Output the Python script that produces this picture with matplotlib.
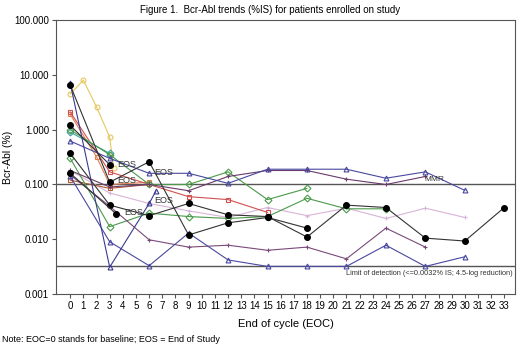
import matplotlib.pyplot as plt

plt.rcParams['font.family'] = ['Liberation Sans', 'DejaVu Sans']

cycles = list(range(34))
ytick_vals = [100, 10, 1, 0.1, 0.01, 0.001]
ytick_labels = ['100.000', '10.000', '1.000', '0.100', '0.010', '0.001']
mmr = 0.1
lod = 0.0032

yellow_x = [0, 1, 2, 3, 3.3]
yellow_y = [4.5, 8.0, 2.6, 0.73, 0.2]
navy_drop_x = [0, 3, 6, 6.5]
navy_drop_y = [7.0, 0.0031, 0.045, 0.075]
black_a_x = [0, 3, 6, 9, 12, 15, 18]
black_a_y = [6.5, 0.11, 0.26, 0.012, 0.02, 0.025, 0.016]
black_b_x = [0, 3]
black_b_y = [1.2, 0.23]
black_c_x = [0, 3, 6, 9, 12, 15, 18, 21, 24, 27, 30, 33]
black_c_y = [0.37, 0.042, 0.027, 0.045, 0.028, 0.026, 0.011, 0.042, 0.038, 0.0105, 0.0093, 0.038]
black_d_x = [0, 3.5]
black_d_y = [0.16, 0.029]
navy_hi_x = [0, 3, 6, 9, 12, 15, 18, 21, 24, 27, 30]
navy_hi_y = [0.62, 0.3, 0.16, 0.16, 0.105, 0.19, 0.19, 0.19, 0.13, 0.17, 0.078]
navy_lo_x = [0, 3, 6, 9, 12, 15, 18, 21, 24, 27, 30]
navy_lo_y = [0.14, 0.009, 0.0033, 0.013, 0.0042, 0.0032, 0.0032, 0.0032, 0.0078, 0.0032, 0.0048]
purple_lo_x = [0, 3, 6, 9, 12, 15, 18, 21, 24, 27]
purple_lo_y = [0.15, 0.04, 0.0098, 0.0072, 0.0078, 0.0063, 0.0072, 0.0044, 0.016, 0.0072]
purple_hi_x = [0, 3, 6, 9, 12, 15, 18, 21, 24, 27]
purple_hi_y = [0.18, 0.09, 0.1, 0.077, 0.14, 0.18, 0.18, 0.125, 0.1, 0.14]
green_a_x = [0, 3, 6, 9, 12, 15, 18]
green_a_y = [1.0, 0.35, 0.1, 0.1, 0.17, 0.053, 0.085]
green_b_x = [0, 3, 6, 9, 12, 15, 18, 21, 24]
green_b_y = [0.3, 0.017, 0.03, 0.026, 0.024, 0.026, 0.056, 0.036, 0.036]
red_x = [0, 3, 6, 9, 12, 15]
red_y = [2.1, 0.17, 0.1, 0.06, 0.053, 0.031]
orange_x = [0, 2, 3, 6]
orange_y = [1.9, 0.32, 0.1, 0.11]
pink_x = [0, 3, 6, 9, 12, 15, 18, 21, 24, 27, 30]
pink_y = [0.18, 0.07, 0.045, 0.033, 0.025, 0.038, 0.027, 0.037, 0.024, 0.037, 0.025]
teal_x = [0, 3]
teal_y = [0.9, 0.37]
brown_x = [0, 3, 6]
brown_y = [0.12, 0.085, 0.1]

eos_x = [3.6, 3.6, 4.1, 6.4, 6.4]
eos_y = [0.23, 0.12, 0.031, 0.165, 0.052]

series = [
    (yellow_x, yellow_y, '#e6c860', 'o', 'none'),
    (pink_x, pink_y, '#d8b4d8', '+', None),
    (brown_x, brown_y, '#b05a30', 's', 'none'),
    (orange_x, orange_y, '#e08050', 's', 'none'),
    (red_x, red_y, '#d05050', 's', 'none'),
    (teal_x, teal_y, '#40a0a0', 'D', 'none'),
    (green_a_x, green_a_y, '#4a9a4a', 'D', 'none'),
    (green_b_x, green_b_y, '#4a9a4a', 'D', 'none'),
    (purple_lo_x, purple_lo_y, '#7a4a7a', '+', None),
    (purple_hi_x, purple_hi_y, '#6a3a6a', '+', None),
    (navy_hi_x, navy_hi_y, '#4848a0', '^', 'none'),
    (navy_lo_x, navy_lo_y, '#4848a0', '^', 'none'),
    (navy_drop_x, navy_drop_y, '#3a3a90', '^', 'none'),
    (black_a_x, black_a_y, '#333333', 'o', 'black'),
    (black_b_x, black_b_y, '#333333', 'o', 'black'),
    (black_c_x, black_c_y, '#333333', 'o', 'black'),
    (black_d_x, black_d_y, '#333333', 'o', 'black'),
]

fig = plt.figure(figsize=(5.2, 3.46), dpi=100)
ax = fig.add_axes([0.108, 0.150, 0.882, 0.792])

ax.axhline(mmr, color='#555555', lw=1)
ax.axhline(lod, color='#555555', lw=1)

for xs, ys, col, mk, fc in series:
    if fc is None:
        ax.plot(xs, ys, color=col, lw=0.8, marker=mk, ms=3.5, mew=0.8)
    else:
        ms = 4.2 if fc == 'black' else 3.5
        ax.plot(xs, ys, color=col, lw=0.8, marker=mk, ms=ms, mfc=fc,
                mec='black' if fc == 'black' else col, mew=0.8)

for ex, ey in zip(eos_x, eos_y):
    ax.text(ex, ey, 'EOS', fontsize=6.5, va='center', ha='left', color='#333333')

ax.text(26.9, 0.108, 'MMR', fontsize=6, va='bottom', ha='left', color='#333333')
ax.text(33.6, 0.0027, 'Limit of detection (<=0.0032% IS; 4.5-log reduction)',
        fontsize=5.3, va='top', ha='right', color='#333333')

ax.set_yscale('log')
ax.set_ylim(0.001, 100)
ax.set_xlim(-1.07, 33.8)
ax.set_yticks(ytick_vals)
ax.set_yticklabels(ytick_labels)
ax.minorticks_off()
ax.set_xticks(cycles)
ax.tick_params(labelsize=7, length=3, width=0.8, color='#555555', pad=2)
ax.set_ylabel('Bcr-Abl (%)', fontsize=7.5, labelpad=1)
ax.set_xlabel('End of cycle (EOC)', fontsize=8, labelpad=6)
for sp in ax.spines.values():
    sp.set_color('#555555')
    sp.set_linewidth(0.8)

fig.text(0.52, 0.985, 'Figure 1.  Bcr-Abl trends (%IS) for patients enrolled on study',
         fontsize=7, ha='center', va='top')
fig.text(0.004, 0.005, 'Note: EOC=0 stands for baseline; EOS = End of Study',
         fontsize=6.5, ha='left', va='bottom')

fig.savefig('out.png', dpi=100)
